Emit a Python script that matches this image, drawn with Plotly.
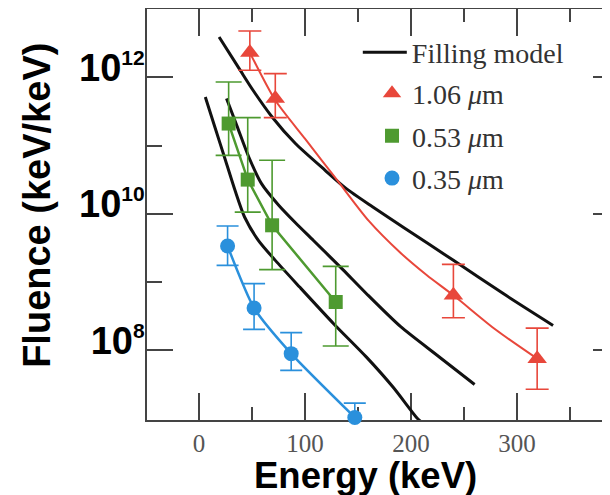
import plotly.graph_objects as go

# ---------------- data ----------------
# measured spectra: energy (keV), fluence (keV/keV), error-bar top / bottom
red_x = [48, 72, 240, 319]
red_y = [2.30e12, 4.88e11, 6.40e8, 7.55e7]
red_hi = [4.76e12, 1.13e12, 1.82e9, 2.12e8]
red_lo = [1.27e12, 2.56e11, 3.01e8, 2.69e7]

green_x = [28, 46, 69, 129]
green_y = [2.10e11, 3.17e10, 6.79e9, 5.11e8]
green_hi = [8.53e11, 2.56e11, 6.08e10, 1.70e9]
green_lo = [7.19e10, 1.06e10, 1.52e9, 1.16e8]

blue_x = [27, 52, 87, 147]
blue_y = [3.37e9, 4.17e8, 8.95e7, 1.04e7]
blue_hi = [6.62e9, 9.48e8, 1.82e8, 1.69e7]
blue_lo = [1.76e9, 2.03e8, 5.09e7, 6.35e6]

# fitted curve through the 1.06 um data
red_fit_x = [48, 72, 100, 130, 160, 190, 215, 240, 280, 319]
red_fit_y = [2.30e12, 4.60e11, 1.26e11, 3.16e10, 7.94e9, 2.69e9, 1.26e9,
             6.40e8, 2.00e8, 7.55e7]

# filling model curves
model_a_x = [19, 39, 51, 69, 91, 119, 139, 164, 193, 240, 287, 334]
model_a_y = [3.89e12, 1.26e12, 6.46e11, 2.62e11, 1.07e11, 4.34e10, 2.34e10,
             1.26e10, 6.31e9, 2.08e9, 6.78e8, 2.32e8]
model_b_x = [26, 36, 47, 59, 75, 91, 108, 136, 158, 190, 227, 260]
model_b_y = [4.88e11, 1.91e11, 6.79e10, 2.77e10, 1.35e10, 7.41e9, 4.07e9,
             1.51e9, 6.76e8, 2.24e8, 7.94e7, 3.16e7]
model_c_x = [6, 15, 25, 34, 43, 56, 72, 95, 127, 158, 183, 205, 209]
model_c_y = [5.14e11, 1.87e11, 6.08e10, 2.21e10, 8.98e9, 4.09e9, 2.08e9,
             8.45e8, 2.46e8, 7.96e7, 2.90e7, 1.05e7, 9.12e6]

x_tickvals = [0, 100, 200, 300]
x_minorvals = [50, 150, 250, 350]
y_tickvals = [1e8, 1e10, 1e12]
y_ticktext = ['10<sup><span style="font-size:21px">8</span></sup>',
              '10<sup><span style="font-size:21px">10</span></sup>',
              '10<sup><span style="font-size:21px">12</span></sup>']
y_minorvals = [1e9, 1e11]

legend_names = ["Filling model", "1.06 <i>\u03bc</i>m", "0.53 <i>\u03bc</i>m", "0.35 <i>\u03bc</i>m"]

# ---------------- styles ----------------
RED = "#e8473b"
GREEN = "#4e9a30"
BLUE = "#2a90dc"
BLACK = "#111111"
AXC = "#444444"
LEGEND_FONT = dict(family="Liberation Serif", size=28, color="#333333")

fig = go.Figure()

models = [(model_a_x, model_a_y), (model_b_x, model_b_y), (model_c_x, model_c_y)]
for i, (mx, my) in enumerate(models):
    fig.add_trace(go.Scatter(
        x=mx, y=my, mode="lines", line=dict(color=BLACK, width=3, shape="spline", smoothing=0.7),
        name=legend_names[0], legendgroup="model", showlegend=(i == 0), legend="legend",
        hoverinfo="skip"))

fig.add_trace(go.Scatter(x=red_fit_x, y=red_fit_y, mode="lines",
                         line=dict(color=RED, width=2, shape="spline", smoothing=0.7),
                         legendgroup="red", showlegend=False, hoverinfo="skip"))
fig.add_trace(go.Scatter(x=green_x, y=green_y, mode="lines",
                         line=dict(color=GREEN, width=2.5),
                         legendgroup="green", showlegend=False, hoverinfo="skip"))
fig.add_trace(go.Scatter(x=blue_x, y=blue_y, mode="lines",
                         line=dict(color=BLUE, width=2.5, shape="spline", smoothing=0.6),
                         legendgroup="blue", showlegend=False, hoverinfo="skip"))

series = [
    (red_x, red_y, red_hi, red_lo, RED, "triangle-up", 17, legend_names[1], "red", 11.5),
    (green_x, green_y, green_hi, green_lo, GREEN, "square", 14, legend_names[2], "green", 13),
    (blue_x, blue_y, blue_hi, blue_lo, BLUE, "circle", 15, legend_names[3], "blue", 11),
]
for sx, sy, hi, lo, col, sym, sz, nm, grp, cap in series:
    fig.add_trace(go.Scatter(
        x=sx, y=sy, mode="markers", name=nm, legendgroup=grp, legend="legend2",
        marker=dict(symbol=sym, size=sz, color=col),
        error_y=dict(type="data", symmetric=False,
                     array=[h - v for h, v in zip(hi, sy)],
                     arrayminus=[v - l for l, v in zip(lo, sy)],
                     color=col, thickness=1.6, width=cap),
        cliponaxis=False))

# invisible helper on right axis (mirror ticks only)
fig.add_trace(go.Scatter(x=[None], y=[None], yaxis="y2", showlegend=False, hoverinfo="skip"))

# the page body adds an 8 px margin, so the figure is 8 px smaller than the window
fig.update_layout(
    width=602, height=487,
    margin=dict(l=139, r=0, t=1, b=75, autoexpand=False),
    paper_bgcolor="white", plot_bgcolor="white",
    showlegend=True,
    legend=dict(x=0.4553, y=0.955, xanchor="left", yanchor="top",
                bgcolor="rgba(0,0,0,0)", borderwidth=0, font=LEGEND_FONT,
                itemwidth=44),
    legend2=dict(x=0.486, y=0.855, xanchor="left", yanchor="top",
                 bgcolor="rgba(0,0,0,0)", borderwidth=0, font=LEGEND_FONT,
                 traceorder="grouped", tracegroupgap=3, itemwidth=30),
    xaxis=dict(range=[-49, 387.7], showgrid=False, zeroline=False, automargin=False,
               showline=True, linecolor=AXC, linewidth=1.5, mirror="ticks",
               layer="below traces",
               ticks="inside", ticklen=27, tickwidth=1.5, tickcolor=AXC,
               tickmode="array", tickvals=x_tickvals,
               tickfont=dict(family="Liberation Serif", size=25, color="#555555"),
               minor=dict(tickmode="array", tickvals=x_minorvals, ticks="inside",
                          ticklen=13, tickwidth=1.5, tickcolor=AXC)),
    yaxis=dict(type="log", range=[6.98, 13.0], showgrid=False, zeroline=False, automargin=False,
               showline=True, linecolor=AXC, linewidth=1.5, mirror=False,
               layer="below traces",
               ticks="inside", ticklen=26, tickwidth=1.5, tickcolor=AXC,
               tickmode="array", tickvals=y_tickvals, ticktext=y_ticktext,
               ticklabelstandoff=-7, ticklabelshift=-10,
               tickfont=dict(family="Liberation Sans", size=38, color="black", weight="bold"),
               minor=dict(tickmode="array", tickvals=y_minorvals, ticks="inside",
                          ticklen=15, tickwidth=1.5, tickcolor=AXC)),
    yaxis2=dict(type="log", range=[6.98, 13.0], overlaying="y", side="right", automargin=False,
                showgrid=False, zeroline=False, showline=False,
                ticks="inside", ticklen=17, tickwidth=1.5, tickcolor=AXC,
                tickmode="array", tickvals=y_tickvals, showticklabels=False,
                minor=dict(tickmode="array", tickvals=y_minorvals, ticks="inside",
                           ticklen=4, tickwidth=1.5, tickcolor=AXC)),
    annotations=[
        dict(text="Energy (keV)", xref="paper", yref="paper", x=(365 - 147) / 463, y=-0.136,
             xanchor="center", yanchor="middle", showarrow=False,
             font=dict(family="Liberation Sans", size=36.5, color="black", weight="bold")),
        dict(text="Fluence (keV/keV)", xref="paper", yref="paper", x=-0.238, y=0.523,
             xanchor="center", yanchor="middle", showarrow=False, textangle=-90,
             font=dict(family="Liberation Sans", size=38, color="black", weight="bold")),
    ],
)

fig.write_html("out.html")
